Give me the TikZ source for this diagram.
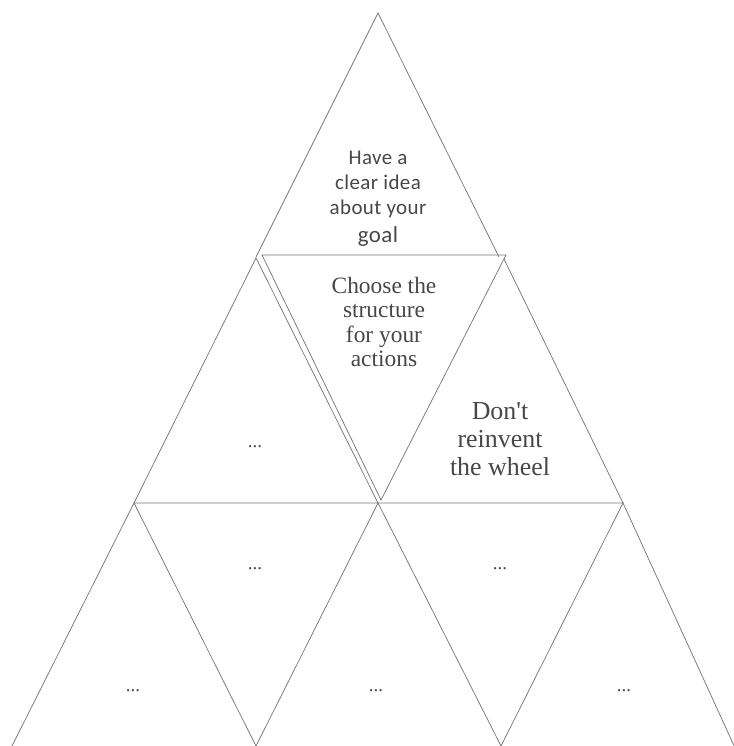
\documentclass[tikz,border=0pt]{standalone}
\usepackage{fontspec}
\setmainfont{Liberation Serif}
\newfontfamily\calibri[LetterSpace=2]{Carlito}
\usetikzlibrary{positioning}
\definecolor{edge}{HTML}{777777}
\definecolor{ink}{HTML}{474747}
\tikzset{
  tri/.style={draw=edge,line width=.75pt,line join=miter},
  cal/.style={align=center,text=ink,inner sep=0pt,font=\calibri\fontsize{21}{25}\selectfont},
  ser/.style={align=center,text=ink,inner sep=0pt,font=\fontsize{23.5}{24.5}\selectfont},
  serb/.style={ser,font=\fontsize{26}{28}\selectfont},
  dots/.style={text=ink,inner sep=0pt,font=\fontsize{19}{20}\selectfont},
}
\begin{document}
\begin{tikzpicture}[x=1bp,y=1bp]
  \useasboundingbox (0,0) rectangle (734,746);
  \begin{scope}
  \clip (0,0) rectangle (734,746);
  % vertices
  \coordinate (apex) at (378,733);
  \coordinate (tl) at (256,489);
  \coordinate (tr) at (499,489);
  \coordinate (il) at (262,491);
  \coordinate (ir) at (506,491);
  \coordinate (ib) at (381,246);
  \coordinate (rl) at (256,488);
  \coordinate (rr) at (504,487);
  \coordinate (m1) at (134,243);
  \coordinate (m2) at (378,243);
  \coordinate (m3) at (623,243);
  \coordinate (b1) at (12,0);
  \coordinate (b2) at (256,0);
  \coordinate (b3) at (501,0);
  \coordinate (b4) at (736,-4);

  \draw[tri] (tl) -- (apex) -- (tr);
  \draw[tri] (il) -- (ir) -- (ib) -- cycle;
  \draw[tri] (rl) -- (m1) -- (m2) -- cycle;
  \draw[tri] (rr) -- (m3) -- (m2);
  \draw[tri] (b1) -- (m1) -- (b2) -- (m2) -- (b3) -- (m3) -- (b4);
  \end{scope}

  \node[cal] (goal) at (378,547) {Have a\\clear idea\\about your\\[3pt]{\fontsize{23}{26}\selectfont goal}};
  \node[ser] (struct) at (384,424) {Choose the\\structure\\for your\\actions};
  \node[serb] (wheel) at (500,307) {Don\textquotesingle t\\reinvent\\the wheel};

  \node[dots] (d1) at (255,299) {...};
  \node[dots] (d2) at (255,177) {...};
  \node[dots] (d3) at (500,177) {...};
  \node[dots] (d4) at (133,55) {...};
  \node[dots] (d5) at (376,55) {...};
  \node[dots] (d6) at (624,55) {...};
\end{tikzpicture}
\end{document}
